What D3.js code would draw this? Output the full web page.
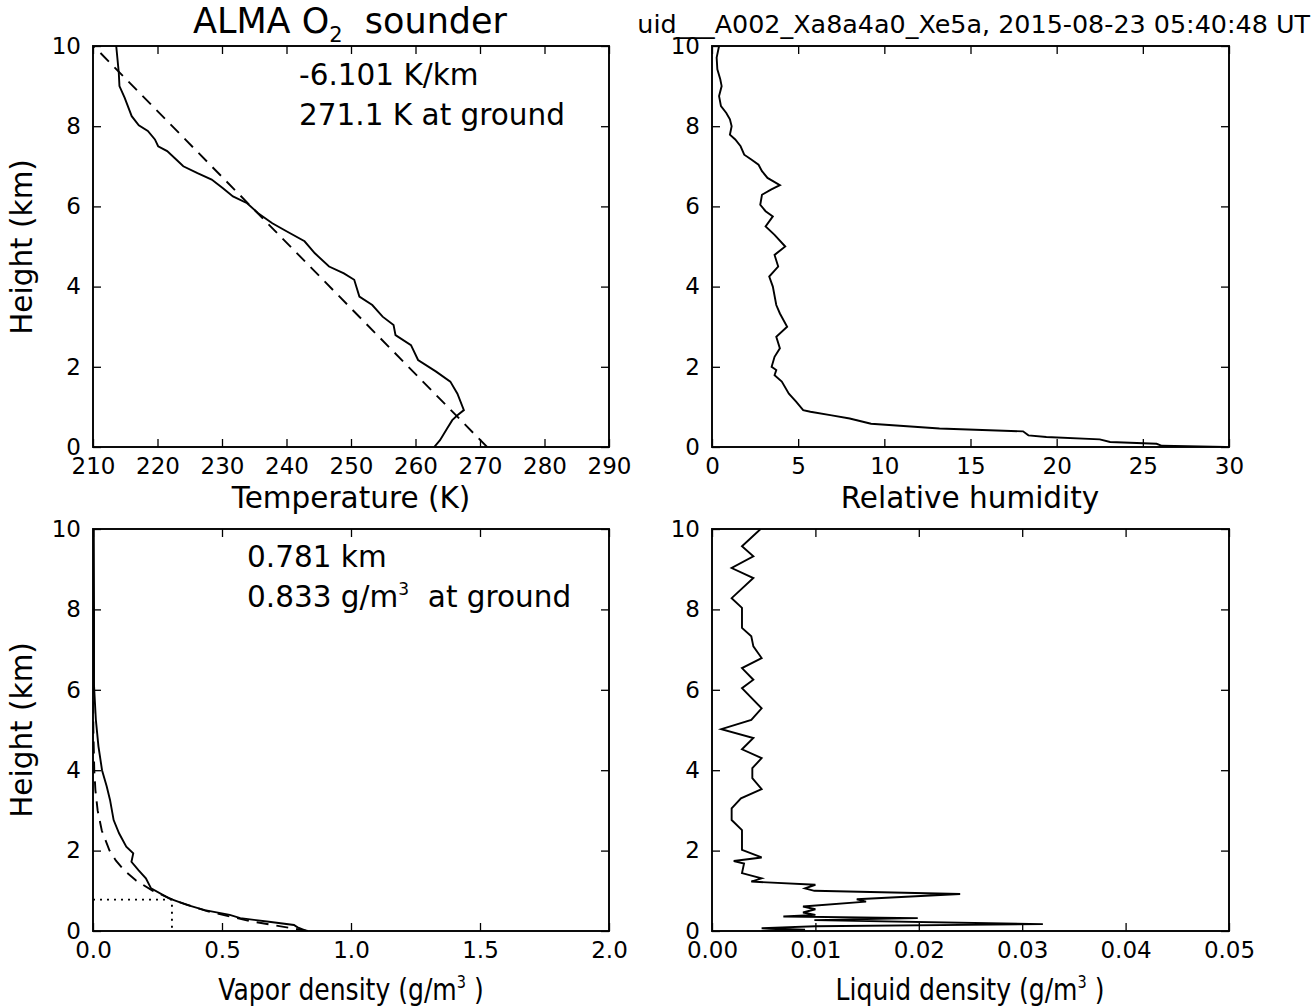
<!DOCTYPE html>
<html>
<head>
<meta charset="utf-8">
<script src="https://cdn.jsdelivr.net/npm/d3@7"></script>
<style>
body { margin: 0; background: #fff; }
svg { display: block; font-family: "DejaVu Sans", sans-serif; }
text { white-space: pre; fill: #000; }
</style>
</head>
<body>
<div id="chart"></div>
<script>
// ---- data ----
var heightTicks = [0, 2, 4, 6, 8, 10];
var tempTicks = [210, 220, 230, 240, 250, 260, 270, 280, 290];
var rhTicks = [0, 5, 10, 15, 20, 25, 30];
var vapTicks = [0.0, 0.5, 1.0, 1.5, 2.0];
var liqTicks = [0.00, 0.01, 0.02, 0.03, 0.04, 0.05];

// temperature profile (K) vs height (km)
var tempH = [10, 9.33, 9.0, 8.71, 8.25, 8.02, 7.88, 7.67, 7.5, 7.38, 7.17, 7.0, 6.83, 6.67, 6.46, 6.25, 6.08, 5.83, 5.58, 5.38, 5.13, 4.83, 4.5, 4.33, 4.17, 3.75, 3.54, 3.25, 3.04, 2.79, 2.54, 2.17, 1.88, 1.63, 1.33, 0.92, 0.79, 0.67, 0.46, 0.17, 0.0];
var tempK = [213.6, 214.0, 214.1, 214.9, 216.0, 217.1, 218.5, 219.6, 220.1, 221.5, 222.9, 224.0, 226.2, 228.4, 230.1, 231.7, 233.9, 235.6, 237.8, 240.0, 242.8, 244.4, 246.6, 248.9, 250.5, 251.3, 253.3, 254.9, 256.6, 256.9, 259.3, 260.4, 263.2, 265.4, 266.5, 267.5, 266.5, 265.7, 264.9, 263.8, 262.9];
// lapse-rate fit (dashed)
var tempFitH = [0, 10];
var tempFitK = [271.1, 210.09];

// relative humidity
var rhH = [10, 9.71, 9.42, 9.17, 9.0, 8.75, 8.5, 8.33, 8.17, 8.0, 7.79, 7.67, 7.5, 7.29, 7.17, 7.04, 6.88, 6.71, 6.53, 6.42, 6.29, 6.04, 5.88, 5.75, 5.5, 5.29, 5.0, 4.79, 4.5, 4.25, 4.0, 3.54, 3.33, 3.0, 2.75, 2.46, 2.25, 2.0, 1.92, 1.79, 1.63, 1.33, 1.13, 0.92, 0.88, 0.79, 0.71, 0.58, 0.46, 0.39, 0.29, 0.25, 0.19, 0.125, 0.08, 0.03, 0.0];
var rhV = [0.41, 0.27, 0.31, 0.48, 0.56, 0.41, 0.52, 0.83, 1.04, 1.14, 1.04, 1.35, 1.66, 1.87, 2.28, 2.70, 2.90, 3.22, 3.94, 3.42, 2.90, 2.80, 3.11, 3.53, 3.11, 3.63, 4.25, 3.63, 3.84, 3.32, 3.53, 3.73, 3.94, 4.36, 3.73, 3.94, 3.63, 3.46, 3.73, 3.63, 4.05, 4.46, 4.88, 5.29, 5.71, 6.95, 7.99, 9.23, 13.2, 18.05, 18.36, 19.4, 22.5, 23.1, 25.8, 26.1, 29.8];

// vapor density
var vapH = [10, 8, 6.1, 5.26, 4.6, 4.0, 3.6, 3.26, 2.76, 2.43, 2.1, 1.93, 1.72, 1.51, 1.31, 1.06, 0.81, 0.65, 0.52, 0.40, 0.32, 0.23, 0.15, 0.09, 0.0];
var vapV = [0.003, 0.004, 0.004, 0.011, 0.021, 0.035, 0.053, 0.066, 0.080, 0.101, 0.129, 0.156, 0.149, 0.177, 0.205, 0.225, 0.295, 0.364, 0.433, 0.530, 0.571, 0.682, 0.779, 0.793, 0.827];
// exponential fit (dashed)
var vapFitH = [0, 0.25, 0.5, 0.75, 1.0, 1.25, 1.5, 1.75, 2.0, 2.5, 3.0, 3.5, 4.0, 5.0, 6.0, 8.0, 10];
var vapFitV = [0.833, 0.605, 0.439, 0.319, 0.232, 0.168, 0.122, 0.089, 0.064, 0.034, 0.018, 0.0094, 0.0049, 0.0014, 0.0004, 0.00003, 0.0];
// scale height marker (dotted)
var scaleH = [0.781, 0.781, 0];
var scaleV = [0, 0.306, 0.306];

// liquid density
var liqH = [10, 9.57, 9.32, 9.03, 8.78, 8.28, 8.04, 7.54, 7.33, 7.08, 6.79, 6.54, 6.25, 6.04, 5.54, 5.25, 5.02, 4.80, 4.52, 4.30, 4.05, 3.80, 3.53, 3.30, 3.05, 2.76, 2.51, 2.02, 1.83, 1.74, 1.68, 1.44, 1.31, 1.23, 1.15, 1.06, 1.00, 0.92, 0.79, 0.73, 0.61, 0.54, 0.46, 0.40, 0.36, 0.32, 0.27, 0.17, 0.12, 0.07, 0.03, 0.0];
var liqV = [0.0047, 0.0029, 0.0040, 0.0019, 0.0040, 0.0019, 0.0029, 0.0029, 0.0038, 0.0040, 0.0048, 0.0029, 0.0040, 0.0029, 0.0048, 0.0038, 0.0009, 0.0040, 0.0029, 0.0048, 0.0039, 0.0039, 0.0048, 0.0028, 0.0019, 0.0019, 0.0029, 0.0029, 0.0048, 0.0021, 0.0031, 0.0029, 0.0048, 0.0038, 0.0100, 0.0090, 0.0099, 0.0240, 0.0140, 0.0149, 0.0088, 0.0100, 0.0088, 0.0100, 0.0069, 0.0199, 0.0099, 0.0320, 0.0100, 0.0048, 0.0090, 0.0048];

function pairs(hs, vs) {
  return hs.map(function (h, i) { return { h: h, v: vs[i] }; });
}

var svg = d3.select("#chart").append("svg")
    .attr("width", 1315)
    .attr("height", 1008);

var panelCount = 0;
var LABEL = 29.5;

function panel(opt) {
  var w = opt.width, ht = opt.height;
  var g = svg.append("g").attr("transform", "translate(" + opt.left + "," + opt.top + ")");
  var x = d3.scaleLinear().domain(opt.xDomain).range([0, w]);
  var y = d3.scaleLinear().domain([0, 10]).range([ht, 0]);

  var id = "clip" + (panelCount++);
  g.append("clipPath").attr("id", id)
    .append("rect").attr("width", w).attr("height", ht);

  var line = d3.line()
      .x(function (d) { return x(d.v); })
      .y(function (d) { return y(d.h); });

  var plot = g.append("g").attr("clip-path", "url(#" + id + ")");
  opt.series.forEach(function (s) {
    plot.append("path")
      .datum(s.data)
      .attr("d", line)
      .attr("fill", "none")
      .attr("stroke", "#000")
      .attr("stroke-width", 1.9)
      .attr("stroke-dasharray", s.dash || null);
  });

  // ticks point inward on all four sides (classic style)
  var tl = 8;
  var bottom = g.append("g").attr("transform", "translate(0," + ht + ")")
    .call(d3.axisBottom(x).tickValues(opt.xTicks).tickFormat(opt.xFormat)
      .tickSize(-tl).tickPadding(11));
  var top = g.append("g")
    .call(d3.axisTop(x).tickValues(opt.xTicks).tickFormat("").tickSize(-tl));
  var left = g.append("g")
    .call(d3.axisLeft(y).tickValues(heightTicks).tickFormat(d3.format("d"))
      .tickSize(-tl).tickPadding(12));
  var right = g.append("g").attr("transform", "translate(" + w + ",0)")
    .call(d3.axisRight(y).tickValues(heightTicks).tickFormat("").tickSize(-tl));

  [bottom, top, left, right].forEach(function (a) {
    a.select(".domain").remove();
    a.selectAll(".tick line").attr("stroke", "#000").attr("stroke-width", 1.3);
    a.selectAll(".tick text")
      .attr("font-family", "DejaVu Sans")
      .attr("font-size", 23)
      .attr("fill", "#000");
  });

  g.append("rect")
    .attr("width", w).attr("height", ht)
    .attr("fill", "none").attr("stroke", "#000").attr("stroke-width", 1.9);

  return g;
}

var colL = 93, colR = 712, rowT = 46, rowB = 529;

panel({
  left: colL, top: rowT, width: 516, height: 401,
  xDomain: [210, 290], xTicks: tempTicks, xFormat: d3.format("d"),
  series: [
    { data: pairs(tempH, tempK) },
    { data: pairs(tempFitH, tempFitK), dash: "12,8" }
  ]
});
panel({
  left: colR, top: rowT, width: 517, height: 401,
  xDomain: [0, 30], xTicks: rhTicks, xFormat: d3.format("d"),
  series: [{ data: pairs(rhH, rhV) }]
});
panel({
  left: colL, top: rowB, width: 516, height: 402,
  xDomain: [0, 2], xTicks: vapTicks, xFormat: d3.format(".1f"),
  series: [
    { data: pairs(vapH, vapV) },
    { data: pairs(vapFitH, vapFitV), dash: "12,8" },
    { data: pairs(scaleH, scaleV), dash: "2,5" }
  ]
});
panel({
  left: colR, top: rowB, width: 517, height: 402,
  xDomain: [0, 0.05], xTicks: liqTicks, xFormat: d3.format(".2f"),
  series: [{ data: pairs(liqH, liqV) }]
});

// ---- text ----
var title = svg.append("text").attr("x", 350).attr("y", 33)
    .attr("text-anchor", "middle").attr("font-size", 35);
title.append("tspan").text("ALMA O");
title.append("tspan").attr("dy", 9).attr("font-size", 21).text("2");
title.append("tspan").attr("dy", -9).text("  sounder");

svg.append("text").attr("x", 1310).attr("y", 33)
  .attr("text-anchor", "end")
  .attr("font-size", 25.4)
  .text("uid___A002_Xa8a4a0_Xe5a, 2015-08-23 05:40:48 UT");

svg.append("text").attr("x", 299).attr("y", 85).attr("font-size", LABEL).text("-6.101 K/km");
svg.append("text").attr("x", 299).attr("y", 125).attr("font-size", LABEL).text("271.1 K at ground");

svg.append("text").attr("x", 247).attr("y", 567).attr("font-size", LABEL).text("0.781 km");
var gr = svg.append("text").attr("x", 247).attr("y", 607).attr("font-size", LABEL);
gr.append("tspan").text("0.833 g/m");
gr.append("tspan").attr("dy", -12).attr("font-size", 17).text("3");
gr.append("tspan").attr("dy", 12).text("  at ground");

svg.append("text").attr("x", 351).attr("y", 508).attr("text-anchor", "middle")
  .attr("font-size", LABEL).text("Temperature (K)");
svg.append("text").attr("x", 970).attr("y", 508).attr("text-anchor", "middle")
  .attr("font-size", LABEL).text("Relative humidity");

// the density labels are set in a condensed face in the original: squeeze them
function densityLabel(cx, name) {
  var t = svg.append("text")
      .attr("transform", "translate(" + cx + ",1000) scale(0.85,1)")
      .attr("text-anchor", "middle").attr("font-size", LABEL);
  t.append("tspan").text(name + " density (g/m");
  t.append("tspan").attr("dy", -12).attr("font-size", 17).text("3");
  t.append("tspan").attr("dy", 12).text(" )");
}
densityLabel(351, "Vapor");
densityLabel(970, "Liquid");

[247, 730].forEach(function (cy) {
  svg.append("text")
    .attr("transform", "translate(32," + cy + ") rotate(-90)")
    .attr("text-anchor", "middle")
    .attr("font-size", LABEL)
    .text("Height (km)");
});
</script>
</body>
</html>
